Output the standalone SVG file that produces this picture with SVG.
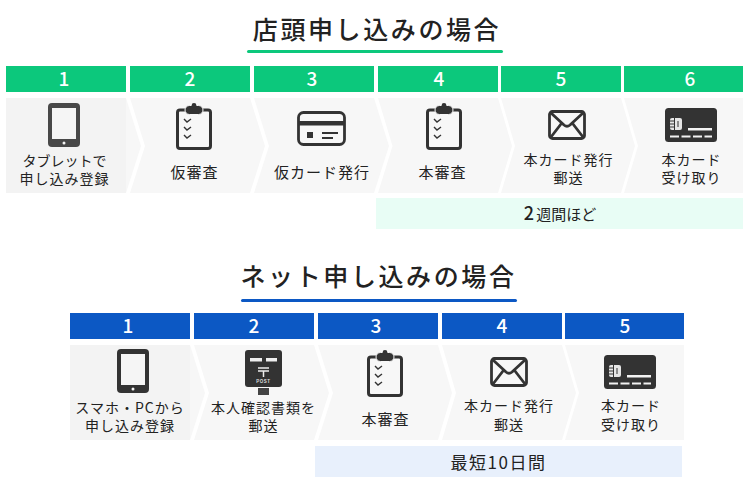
<svg xmlns="http://www.w3.org/2000/svg" width="750" height="500" viewBox="0 0 750 500">
<style>
text{font-family:"Noto Sans CJK JP","Noto Sans",sans-serif;fill:#222;text-anchor:middle}
.t{font-size:25px;letter-spacing:2.600px;font-weight:500;fill:#222}
.n{font-size:19px;font-weight:500;fill:#fff}
.l{font-size:14px;letter-spacing:1px}
.o{font-size:15px;letter-spacing:1px}
.b{font-size:15px}
.g{fill:#0cc87c}.u{fill:#0c58c4}
.c{fill:#f7f7f7}.c0{fill:#f3f3f3}
.i{fill:#333}.s{fill:none;stroke:#333;stroke-width:2.800;stroke-linecap:round;stroke-linejoin:round}
.ck{fill:none;stroke:#333;stroke-width:1.400}
</style>
<defs>
<g id="tablet"><rect x="0" y="0" width="32" height="44" rx="4"/><rect x="4" y="5" width="24" height="31" fill="#f5f5f5"/><circle cx="16" cy="40" r="1.500" fill="#f5f5f5"/></g>
<g id="clip"><rect x="1.500" y="7" width="33" height="38.500" rx="2.500" fill="none" stroke="#333" stroke-width="3"/><rect x="9" y="2.500" width="18" height="9" rx="4.500" class="i" stroke="#f7f7f7" stroke-width="1"/><circle cx="18" cy="2.500" r="2.400" class="i"/><path class="ck" d="M8 16l3 3 4-3M8 24l3 3 4-3M8 32l3 3 4-3"/></g>
<g id="card"><rect x="1.500" y="1.500" width="46" height="32" rx="5" class="s"/><rect x="1" y="10" width="47" height="4.500" class="i"/><rect x="10" y="21" width="6" height="6" class="i"/><rect x="25" y="21" width="16" height="2" class="i"/><rect x="25" y="26" width="11" height="2" class="i"/></g>
<g id="mail"><rect x="1.500" y="1.500" width="35" height="27" rx="3" class="s"/><path class="s" d="M3 3L16 15Q19 17.500 22 15L35 3M3 27L13 14M35 27L25 14"/></g>
<g id="bcard"><rect x="0" y="0" width="52" height="34" rx="3.500" class="i"/><rect x="5" y="10" width="12" height="12" rx="2" fill="#e6e6e6"/><path d="M9.500 10v12M5 13h4.500M5 16h4.500M5 19h4.500M13 13v6" stroke="#333" stroke-width="1"/><rect x="23" y="20" width="24" height="2.500" fill="#f2f2f2"/><path d="M5 28.500h42" stroke="#f2f2f2" stroke-width="2" stroke-dasharray="9 2.500"/></g>
<g id="post"><rect x="0" y="0" width="37" height="37" rx="3" class="i"/><rect x="5" y="8" width="12" height="3.500" fill="#eee"/><rect x="21" y="8" width="11" height="3.500" fill="#eee"/><path d="M13 18h11M13 21h11M18.500 21v6" stroke="#eee" stroke-width="1.500" fill="none"/><text x="18.500" y="33" style="font-size:4.500px;font-weight:700;fill:#ddd;font-family:'Liberation Sans',sans-serif;letter-spacing:.5px">POST</text><rect x="13" y="38" width="11" height="7" fill="#444"/></g>
</defs>

<g id="title1"><text class="t" x="377" y="39">店頭申し込みの場合</text><rect x="247" y="50" width="256" height="3" rx="1.500" class="g"/></g>
<g id="title2"><text class="t" x="378.500" y="286">ネット申し込みの場合</text><rect x="241" y="299" width="276" height="3" rx="1.500" class="u"/></g>

<g id="connectors"></g>

<g id="s1-1"><rect x="6" y="66" width="120" height="26" class="g"/><text class="n" x="64" y="85.500">1</text><path class="c" d="M126 98L141 146L126 193Z"/><rect x="6" y="98" width="120" height="95" class="c0"/><use href="#tablet" x="48" y="103" fill="#484848"/><text class="l" x="64.500" y="166"><tspan style="letter-spacing:0">タブレットで</tspan><tspan x="64.500" y="184">申し込み登録</tspan></text></g>
<g id="s1-2"><rect x="130" y="66" width="120" height="26" class="g"/><text class="n" x="190" y="85.500">2</text><path class="c" d="M130 98H250L265 146L250 193H130L145 146Z"/><use href="#clip" x="176" y="103"/><text class="o" x="194.500" y="178">仮審査</text></g>
<g id="s1-3"><rect x="254" y="66" width="120" height="26" class="g"/><text class="n" x="312" y="85.500">3</text><path class="c" d="M254 98H374L389 146L374 193H254L269 146Z"/><use href="#card" x="297" y="111"/><text class="o" x="322" y="178">仮カード発行</text></g>
<g id="s1-4"><rect x="378" y="66" width="120" height="26" class="g"/><text class="n" x="439" y="85.500">4</text><path class="c" d="M378 98H498L512 146L498 193H378L392.500 146Z"/><use href="#clip" x="426" y="103"/><text class="o" x="442.500" y="178">本審査</text></g>
<g id="s1-5"><rect x="501" y="66" width="120" height="26" class="g"/><text class="n" x="561" y="85.500">5</text><path class="c" d="M501 98H621L635 146L621 193H501L515 146Z"/><use href="#mail" x="548" y="110"/><text class="l" x="568.500" y="165">本カード発行<tspan x="568.500" y="183">郵送</tspan></text></g>
<g id="s1-6"><rect x="624" y="66" width="119" height="26" class="g"/><text class="n" x="690" y="85.500">6</text><path class="c" d="M624 98H743V193H624L638 146Z"/><use href="#bcard" x="665" y="108"/><text class="l" x="691.500" y="165">本カード<tspan x="691.500" y="183">受け取り</tspan></text></g>
<g id="s1-bar"><rect x="376" y="198" width="367" height="31" fill="#e8fdf5"/><text class="b" x="560" y="219.500"><tspan style="font-size:18px;font-weight:500;letter-spacing:2px">2</tspan>週間ほど</text></g>

<g id="s2-1"><rect x="70" y="313" width="120" height="26" class="u"/><text class="n" x="128" y="332.500">1</text><path class="c" d="M190 345L205 393L190 440Z"/><rect x="70" y="345" width="120" height="95" class="c0"/><use href="#tablet" x="117" y="349" fill="#333"/><text class="l" x="130" y="413">スマホ・PCから<tspan x="130" y="431">申し込み登録</tspan></text></g>
<g id="s2-2"><rect x="194" y="313" width="120" height="26" class="u"/><text class="n" x="254" y="332.500">2</text><path class="c" d="M194 345H314L329 393L314 440H194L209 393Z"/><use href="#post" x="245" y="350"/><text class="l" x="263.500" y="413">本人確認書類を<tspan x="263.500" y="431">郵送</tspan></text></g>
<g id="s2-3"><rect x="318" y="313" width="120" height="26" class="u"/><text class="n" x="376" y="332.500">3</text><path class="c" d="M318 345H438L452 393L438 440H318L333 393Z"/><use href="#clip" x="367" y="350"/><text class="o" x="385.500" y="425">本審査</text></g>
<g id="s2-4"><rect x="442" y="313" width="120" height="26" class="u"/><text class="n" x="502" y="332.500">4</text><path class="c" d="M442 345H562L576 393L562 440H442L456 393Z"/><use href="#mail" x="490" y="357"/><text class="l" x="509" y="411">本カード発行<tspan x="509" y="430">郵送</tspan></text></g>
<g id="s2-5"><rect x="565" y="313" width="119" height="26" class="u"/><text class="n" x="625" y="332.500">5</text><path class="c" d="M565 345H684V440H565L579 393Z"/><use href="#bcard" x="604" y="355"/><text class="l" x="631" y="411">本カード<tspan x="631" y="430">受け取り</tspan></text></g>
<g id="s2-bar"><rect x="315" y="446" width="367" height="31" fill="#e8f0fc"/><text x="498.500" y="468.500" style="font-size:17px;letter-spacing:1.500px">最短10日間</text></g>
</svg>
